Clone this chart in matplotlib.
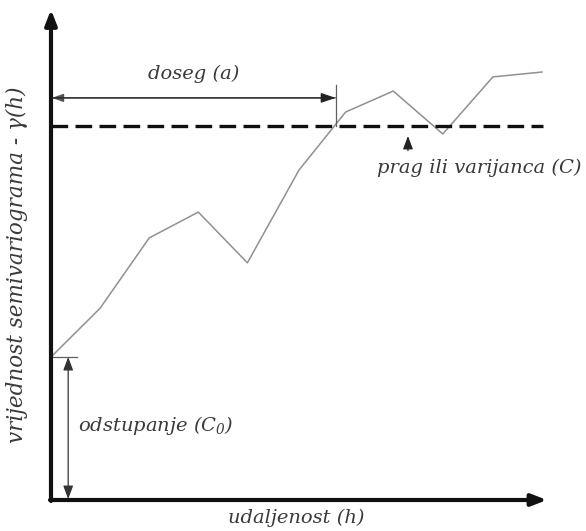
import numpy as np
import matplotlib
matplotlib.use('Agg')
from matplotlib import pyplot as plt

plt.rcParams['font.family'] = ['DejaVu Serif']
plt.rcParams['mathtext.fontset'] = 'custom'
plt.rcParams['mathtext.it'] = 'DejaVu Serif:italic'
plt.rcParams['mathtext.rm'] = 'DejaVu Serif:italic'

# 实验变差函数 (udaljenost h, gamma(h))
h = [0, 1, 2, 3, 4, 5.05, 6.0, 6.97, 7.98, 9.0, 10.0]
gamma = [2.93, 3.93, 5.37, 5.90, 4.86, 6.76, 7.95, 8.38, 7.50, 8.67, 8.77]

prag = 7.66        # prag ili varijanca (C)
doseg = 5.8        # doseg (a)
odstupanje = 2.93  # odstupanje (C0)

tekst = '#3a3a3a'
fs = 14

fig = plt.figure(figsize=(5.86, 5.31), dpi=100)
ax = fig.add_axes([51 / 586, 31 / 531, 491 / 586, 488 / 531])
ax.set_xlim(0, 10)
ax.set_ylim(0, 10)
ax.axis('off')
ax.patch.set_alpha(0)

# 坐标轴箭头
ax.annotate('', xy=(10.1, 0), xytext=(-0.02, 0),
            arrowprops=dict(arrowstyle='-|>,head_length=0.9,head_width=0.35', lw=3, color='#111111',
                            shrinkA=0, shrinkB=0), annotation_clip=False)
ax.annotate('', xy=(0, 10.05), xytext=(0, -0.02),
            arrowprops=dict(arrowstyle='-|>,head_length=0.9,head_width=0.35', lw=3, color='#111111',
                            shrinkA=0, shrinkB=0), annotation_clip=False)

# 曲线
ax.plot(h, gamma, color='#909090', lw=1.1, clip_on=False)

# 门槛值
ax.plot([0, 10.02], [prag, prag], color='#111111', lw=2.4, ls=(0, (5, 2.2)), clip_on=False)

# 变程
ax.annotate('', xy=(0.02, 8.24), xytext=(doseg, 8.24),
            arrowprops=dict(arrowstyle='-|>,head_length=0.7,head_width=0.25', lw=0.9, color='#555555',
                            shrinkA=0, shrinkB=0))
ax.annotate('', xy=(doseg, 8.24), xytext=(0.02, 8.24),
            arrowprops=dict(arrowstyle='-|>,head_length=0.9,head_width=0.3', lw=0.9, color='#222222',
                            shrinkA=0, shrinkB=0))
ax.plot([doseg, doseg], [prag, 8.5], color='#606060', lw=0.9)
ax.text(doseg / 2, 8.55, 'doseg (a)', style='italic', fontsize=fs, color=tekst, ha='center', va='bottom')

# 门槛箭头
ax.annotate('', xy=(7.27, prag - 0.2), xytext=(7.27, prag - 0.5),
            arrowprops=dict(arrowstyle='-|>,head_length=0.8,head_width=0.3', lw=0.9, color='#222222',
                            shrinkA=0, shrinkB=0))
ax.text(6.64, 6.80, 'prag ili varijanca (C)', style='italic', fontsize=fs, color=tekst, ha='left', va='center')

# 块金
ax.plot([0, 0.53], [odstupanje, odstupanje], color='#606060', lw=0.9)
ax.annotate('', xy=(0.35, 0.02), xytext=(0.35, odstupanje),
            arrowprops=dict(arrowstyle='<|-|>,head_length=0.8,head_width=0.3', lw=0.9, color='#333333',
                            shrinkA=0, shrinkB=0))
ax.text(0.55, 1.53, 'odstupanje (C$_0$)', style='italic', fontsize=fs, color=tekst, ha='left', va='center')

# 轴标题
fig.text(296 / 586, 1 - 518 / 531, 'udaljenost (h)', style='italic', fontsize=fs, color=tekst,
         ha='center', va='center')
fig.text(17 / 586, 1 - 265 / 531, 'vrijednost semivariograma - γ(h)', style='italic', fontsize=15.5,
         color=tekst, ha='center', va='center', rotation=90)

plt.savefig('out.png', dpi=100)
